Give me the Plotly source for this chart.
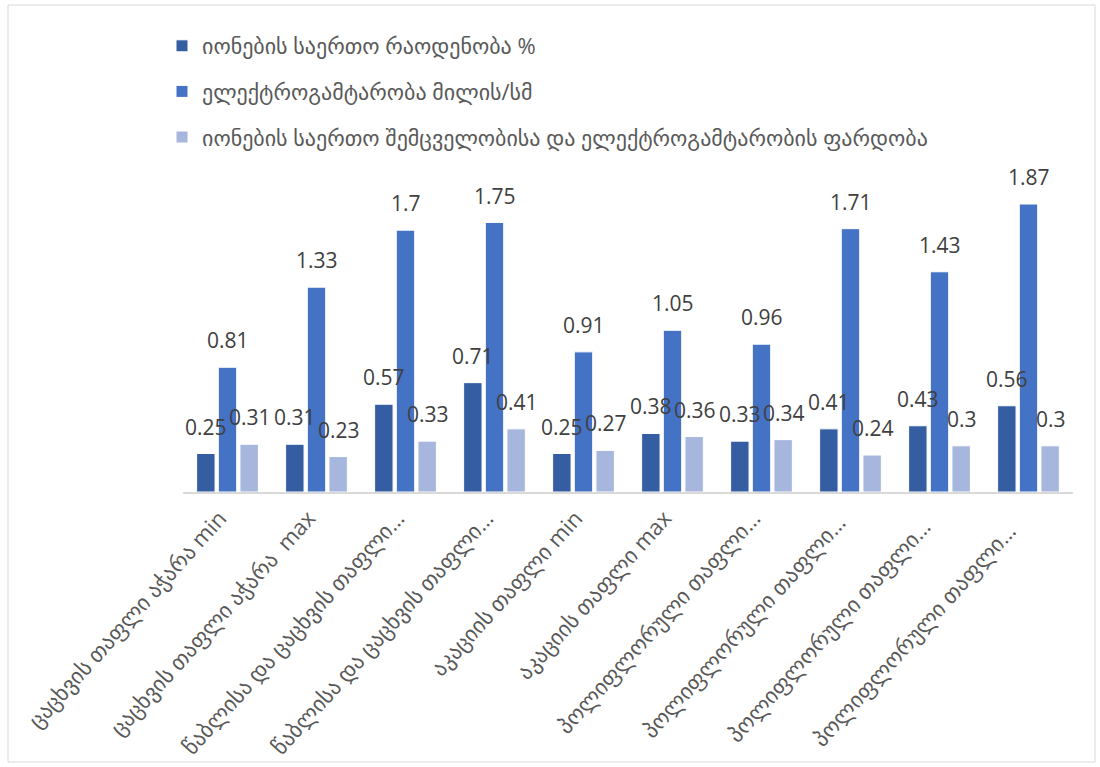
import plotly.graph_objects as go

categories = [
    "ცაცხვის თაფლი აჭარა min",
    "ცაცხვის თაფლი აჭარა  max",
    "წაბლისა და ცაცხვის თაფლი…",
    "წაბლისა და ცაცხვის თაფლი…",
    "აკაციის თაფლი min",
    "აკაციის თაფლი max",
    "პოლიფლორული თაფლი…",
    "პოლიფლორული თაფლი… ",
    "პოლიფლორული თაფლი…  ",
    "პოლიფლორული თაფლი…   ",
]
cat_ids = list(range(len(categories)))

series_names = [
    "იონების საერთო რაოდენობა %",
    "ელექტროგამტარობა მილის/სმ",
    "იონების საერთო შემცველობისა და ელექტროგამტარობის ფარდობა",
]
ions_total = [0.25, 0.31, 0.57, 0.71, 0.25, 0.38, 0.33, 0.41, 0.43, 0.56]
conductivity = [0.81, 1.33, 1.7, 1.75, 0.91, 1.05, 0.96, 1.71, 1.43, 1.87]
ratio = [0.31, 0.23, 0.33, 0.41, 0.27, 0.36, 0.34, 0.24, 0.3, 0.3]
label_text = {
    0: ["0.25", "0.31", "0.57", "0.71", "0.25", "0.38", "0.33", "0.41", "0.43", "0.56"],
    1: ["0.81", "1.33", "1.7", "1.75", "0.91", "1.05", "0.96", "1.71", "1.43", "1.87"],
    2: ["0.31", "0.23", "0.33", "0.41", "0.27", "0.36", "0.34", "0.24", "0.3", "0.3"],
}

colors = ["#355DA2", "#4472C4", "#A7B6DC"]
values = [ions_total, conductivity, ratio]
FONT = "Open Sans, DejaVu Sans, sans-serif"

fig = go.Figure()
for i, (name, vals) in enumerate(zip(series_names, values)):
    fig.add_trace(go.Bar(
        x=cat_ids, y=vals, name=name,
        marker=dict(color=colors[i], line=dict(color="white", width=1)),
        legendgroup=f"g{i}",
    ))

offsets = [-22, 0, 22]
annotations = []
for i, vals in enumerate(values):
    for c, v in enumerate(vals):
        annotations.append(dict(
            x=cat_ids[c], y=v, xref="x", yref="y", text=label_text[i][c],
            showarrow=False, xshift=offsets[i], yshift=11, yanchor="bottom",
            font=dict(family=FONT, size=21, color="#404040"),
        ))

L, R, T, B = 183, 27, 184, 275
W, H = 1100, 767
pw, ph = W - L - R, H - T - B

fig.update_layout(
    width=W, height=H,
    margin=dict(l=L, r=R, t=T, b=B, pad=0, autoexpand=False),
    paper_bgcolor="white", plot_bgcolor="white",
    barmode="group", bargap=0.27, bargroupgap=0.15,
    font=dict(family=FONT, color="#595959"),
    showlegend=True,
    legend=dict(
        x=(162 - L) / pw, y=1 + (T - 25) / ph, xanchor="left", yanchor="top",
        orientation="v", tracegroupgap=14,
        font=dict(family=FONT, size=22, color="#595959"),
        bgcolor="rgba(0,0,0,0)", itemwidth=30,
    ),
    xaxis=dict(
        tickmode="array", tickvals=cat_ids, ticktext=categories,
        tickangle=-48, range=[-0.5, 9.5], automargin=False,
        ticklabelshift=-8, ticklabelstandoff=3,
        showline=True, linecolor="#D9D9D9", linewidth=1.5,
        showgrid=False, zeroline=False, ticks="",
        tickfont=dict(family=FONT, size=22, color="#595959"),
    ),
    yaxis=dict(range=[0, 2.0], visible=False, showgrid=False, zeroline=False,
               automargin=False),
    annotations=annotations,
    shapes=[dict(
        type="rect", xref="paper", yref="paper",
        x0=(8 - L) / pw, x1=(1095 - L) / pw,
        y0=1 - (762 - T) / ph, y1=1 - (5 - T) / ph,
        line=dict(color="#D9D9D9", width=1), layer="below",
    )],
)

fig.write_html("out.html", config={"displayModeBar": False},
               post_script="document.body.style.margin='0';")
